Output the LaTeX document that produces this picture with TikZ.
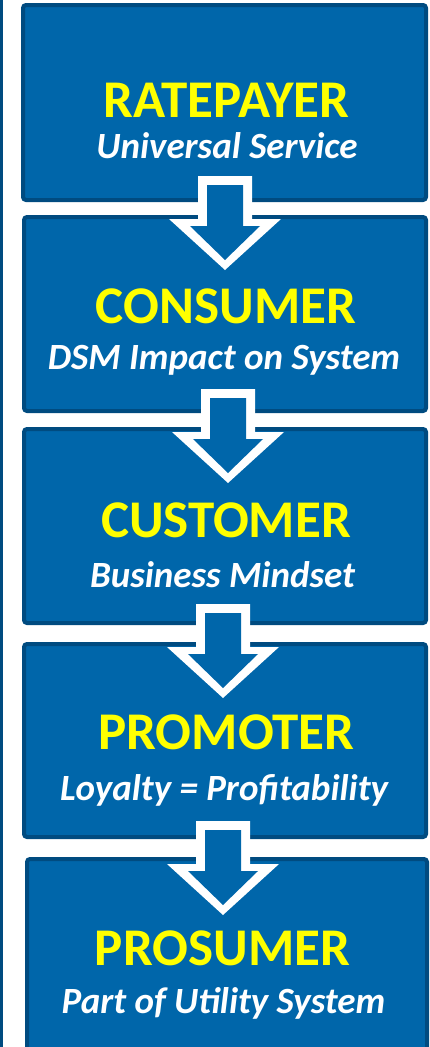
\documentclass[tikz,border=0pt]{standalone}
\usepackage{fontspec}
\setmainfont{Carlito}
\definecolor{boxblue}{RGB}{0,102,170}
\definecolor{edgeblue}{RGB}{0,75,128}
\definecolor{titleyellow}{RGB}{255,255,0}
\tikzset{
  box/.style={draw=edgeblue, line width=4pt, fill=boxblue, rounded corners=3pt,
              anchor=north west, inner sep=0pt, outer sep=0pt},
  titletext/.style={anchor=base, inner sep=0pt, text=titleyellow,
              font=\fontsize{53}{58}\selectfont\bfseries},
  subtext/.style={anchor=base, inner sep=0pt, text=white,
              font=\fontsize{37}{42}\selectfont\bfseries\itshape},
  downarrow/.pic={
    \fill[white] (-27,0) -- (27,0) -- (27,43) -- (56,43) -- (0,94) -- (-56,43) -- (-27,43) -- cycle;
    \fill[boxblue] (-18,9) -- (18,9) -- (18,50) -- (35,50) -- (0,84) -- (-35,50) -- (-18,50) -- cycle;
  }
}
\begin{document}
\begin{tikzpicture}[x=1pt,y=-1pt]
\useasboundingbox (0,0) rectangle (430,1047);
\clip (0,0) rectangle (430,1047);
\fill[white] (0,0) rectangle (430,1047);
% left rule
\draw[edgeblue, line width=2.5pt] (1.25,0) -- (1.25,1047);
% boxes
\node[box, minimum width=403pt, minimum height=195pt] (b1) at (23,5) {};
\node[box, minimum width=402pt, minimum height=194pt] (b2) at (24,217) {};
\node[box, minimum width=402pt, minimum height=194pt] (b3) at (24,429) {};
\node[box, minimum width=402pt, minimum height=193pt] (b4) at (24,644) {};
\node[box, minimum width=400pt, minimum height=201pt] (b5) at (27,859) {};
% arrows
\pic (a1) at (225,176) {downarrow};
\pic (a2) at (228,389) {downarrow};
\pic (a3) at (223,604) {downarrow};
\pic (a4) at (223,821) {downarrow};
% texts
\node[titletext] (t1) at (226.5,117) {RATEPAYER};
\node[subtext]   (s1) at (227,158)   {Universal Service};
\node[titletext] (t2) at (226,323)   {CONSUMER};
\node[subtext]   (s2) at (224,369)   {DSM Impact on System};
\node[titletext] (t3) at (226,537)   {CUSTOMER};
\node[subtext]   (s3) at (222.5,587) {Business Mindset};
\node[titletext] (t4) at (226.5,749) {PROMOTER};
\node[subtext]   (s4) at (224,800)   {Loyalty = Profitability};
\node[titletext] (t5) at (222.5,965) {PROSUMER};
\node[subtext]   (s5) at (223.5,1013) {Part of Utility System};
\end{tikzpicture}
\end{document}
